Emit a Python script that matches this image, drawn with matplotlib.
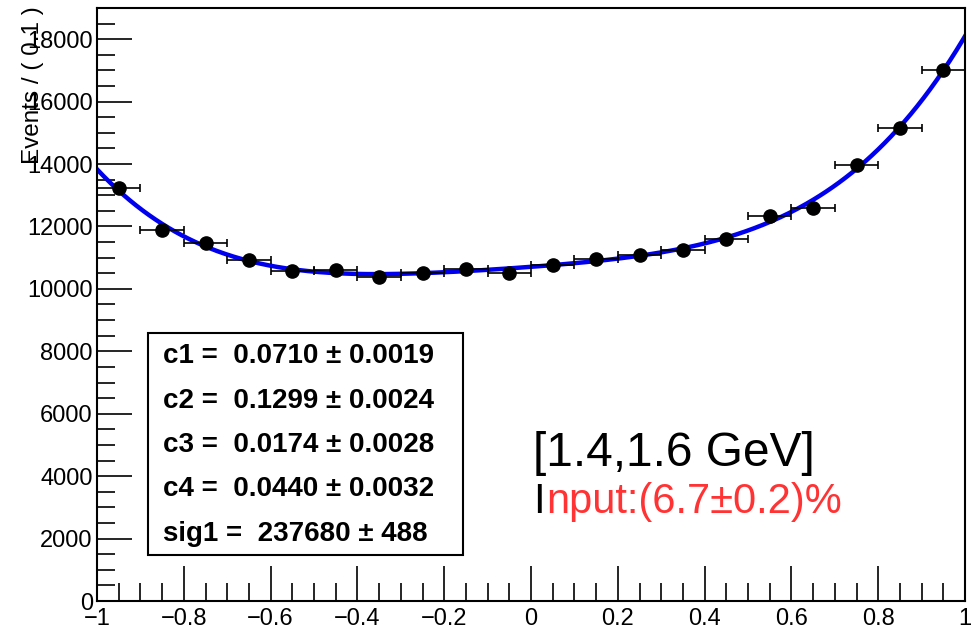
import matplotlib.pyplot as plt
from matplotlib.ticker import MultipleLocator
import numpy as np

plt.rcParams['font.family'] = ['Liberation Sans', 'DejaVu Sans']

# bin centres and event counts
x_centers = [-0.95, -0.85, -0.75, -0.65, -0.55, -0.45, -0.35, -0.25, -0.15, -0.05,
             0.05, 0.15, 0.25, 0.35, 0.45, 0.55, 0.65, 0.75, 0.85, 0.95]
events = [13220, 11900, 11470, 10940, 10560, 10620, 10380, 10510, 10640, 10510,
          10780, 10960, 11100, 11260, 11600, 12350, 12600, 13960, 15170, 17010]
bin_half_width = 0.05

fit_labels = ["c1 =  0.0710 \u00b1 0.0019",
              "c2 =  0.1299 \u00b1 0.0024",
              "c3 =  0.0174 \u00b1 0.0028",
              "c4 =  0.0440 \u00b1 0.0032",
              "sig1 =  237680 \u00b1 488"]

x = np.array(x_centers)
y = np.array(events, dtype=float)

fig = plt.figure(figsize=(9.72, 6.29), dpi=100)
ax = fig.add_axes([97 / 972, 1 - 601 / 629, (965 - 97) / 972, (601 - 8) / 629])

# polynomial fit curve through the data
coef = np.polyfit(x, y, 4, w=1 / np.sqrt(y))
xf = np.linspace(-1, 1, 400)
ax.plot(xf, np.polyval(coef, xf), color='#0000ee', lw=3.2, zorder=2)

ax.errorbar(x, y, xerr=bin_half_width, yerr=np.sqrt(y), fmt='o', color='black',
            ms=9.5, elinewidth=1.2, capsize=3, capthick=1.2, zorder=3)

ax.set_xlim(-1, 1)
ax.set_ylim(0, 19000)
ax.xaxis.set_minor_locator(MultipleLocator(0.05))
ax.yaxis.set_major_locator(MultipleLocator(2000))
ax.yaxis.set_minor_locator(MultipleLocator(500))
ax.tick_params(which='both', direction='in', top=False, right=False, labelsize=17)
ax.tick_params(which='major', length=25, width=1.2)
ax.tick_params(which='minor', length=13, width=1.2)
ax.tick_params(axis='x', pad=5)
ax.tick_params(axis='y', pad=3)
ax.set_xticks(np.arange(-1, 1.01, 0.2))
ax.set_xticklabels(['\u22121', '\u22120.8', '\u22120.6', '\u22120.4', '\u22120.2',
                    '0', '0.2', '0.4', '0.6', '0.8', '1'])
for s in ax.spines.values():
    s.set_linewidth(1.5)

fig.text(33 / 972, 1 - 6 / 629, 'Events / ( 0.1 )', rotation=90, fontsize=17.5,
         ha='center', va='top')

# fit parameter box
box = plt.Rectangle((148 / 972, 1 - 555 / 629), (463 - 148) / 972, (555 - 333) / 629,
                    transform=fig.transFigure, fill=False, lw=1.5, color='black')
fig.patches.append(box)
for i, lab in enumerate(fit_labels):
    fig.text(163 / 972, 1 - (356 + i * 44.5) / 629, lab, fontsize=20, fontweight='bold',
             ha='left', va='center')

fig.text(533 / 972, 1 - 466 / 629, '[1.4,1.6 GeV]', fontsize=34.5, ha='left', va='baseline')
fig.text(533 / 972, 1 - 513 / 629, 'I', fontsize=30, ha='left', va='baseline')
fig.text(546 / 972, 1 - 513 / 629, 'nput:(6.7\u00b10.2)%', fontsize=30, color='#ff3333',
         ha='left', va='baseline')

fig.savefig('out.png', dpi=100)
